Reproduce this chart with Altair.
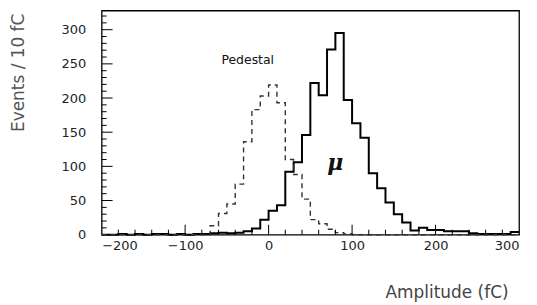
import altair as alt
import pandas as pd

# bin left edges (10 fC bins from -200 to 300)
edges = list(range(-200, 300, 10))

# signal (solid) histogram counts per bin
signal = [0, 0, 1, 0, 1, 0, 1, 1, 0, 1,
          0, 1, 1, 2, 3, 2, 3, 5, 9, 22,
          35, 43, 92, 106, 146, 222, 204, 271, 295, 197,
          163, 142, 90, 68, 47, 30, 18, 6, 10, 7,
          7, 5, 5, 5, 2, 1, 1, 1, 1, 4]

# pedestal (dashed) histogram counts per bin
pedestal = [0, 0, 0, 0, 0, 0, 0, 0, 0, 0,
            0, 0, 0, 13, 31, 45, 74, 136, 183, 203,
            219, 193, 110, 88, 52, 22, 16, 8, 3, 1,
            0, 0, 0, 0, 0, 0, 0, 0, 0, 0,
            0, 0, 0, 0, 0, 0, 0, 0, 0, 0]

x_label_values = [-200, -100, 0, 100, 200, 300]
y_label_values = [0, 50, 100, 150, 200, 250, 300]
x_minor_ticks = list(range(-180, 300, 20))
x_major_ticks = [-100, 0, 100, 200]
y_minor_ticks = list(range(10, 330, 10))
y_major_ticks = [50, 100, 150, 200, 250, 300]

annot_text = ["Pedestal"]
annot_x = [-25]
annot_y = [255]
mu_text = ["\u03bc"]
mu_x = [80]
mu_y = [105]

XD = [-200, 300]
YD = [0, 328]
W, H = 419, 225


def steps(vals):
    xs = edges + [300]
    ys = vals + [vals[-1]]
    return pd.DataFrame({"x": xs, "y": ys})


def xs():
    return alt.Scale(domain=XD, nice=False, zero=False)


def ys():
    return alt.Scale(domain=YD, nice=False, zero=False)


x_axis = alt.Axis(values=x_label_values, ticks=False, domain=False, grid=False,
                  labelPadding=5, labelFontSize=13, labelFont="DejaVu Sans", labelColor="#222",
                  labelOverlap=False,
                  labelExpr="datum.value < 0 ? '\u2212' + abs(datum.value) : datum.label",
                  title="Amplitude (fC)", titleFontSize=17, titleFont="DejaVu Sans",
                  titleFontWeight="normal", titleColor="#444", titleX=408, titleY=58,
                  titleAlign="right", titleBaseline="middle")
y_axis = alt.Axis(values=y_label_values, ticks=False, domain=False, grid=False,
                  labelPadding=16, labelFontSize=13, labelFont="DejaVu Sans", labelColor="#222",
                  labelOverlap=False,
                  title="Events / 10 fC", titleFontSize=17, titleFont="DejaVu Sans",
                  titleFontWeight="normal", titleColor="#555", titleX=-83, titleY=62,
                  titleAngle=-90, titleAlign="center", titleBaseline="middle")


def X(field):
    return alt.X(field, scale=xs(), axis=x_axis)


def Y(field):
    return alt.Y(field, scale=ys(), axis=y_axis)


sig = alt.Chart(steps(signal)).mark_line(interpolate="step-after", color="black", strokeWidth=2).encode(
    x=X("x:Q"), y=Y("y:Q"))
ped = alt.Chart(steps(pedestal)).mark_line(interpolate="step-after", color="#333", strokeWidth=1.4,
                                             strokeDash=[5, 4]).encode(
    x=X("x:Q"), y=Y("y:Q"))

# tick lengths in pixels converted to data units of the other axis
px_x = (XD[1] - XD[0]) / W
px_y = (YD[1] - YD[0]) / H

tick_rows = []
for k, v in enumerate(y_minor_ticks):
    ln = 11 if v in y_major_ticks else 5
    tick_rows.append({"id": f"y{k}", "x": XD[0], "y": v})
    tick_rows.append({"id": f"y{k}", "x": XD[0] + ln * px_x, "y": v})
for k, v in enumerate(x_minor_ticks):
    ln = 10 if v in x_major_ticks else 5
    tick_rows.append({"id": f"x{k}", "x": v, "y": YD[0]})
    tick_rows.append({"id": f"x{k}", "x": v, "y": YD[0] + ln * px_y})
ticks_df = pd.DataFrame(tick_rows)

ticks = alt.Chart(ticks_df).mark_line(color="black", strokeWidth=1).encode(
    x=X("x:Q"), y=Y("y:Q"), detail="id:N")

ped_txt = alt.Chart(pd.DataFrame({"t": annot_text, "x": annot_x, "y": annot_y})).mark_text(
    fontSize=12.5, font="DejaVu Sans", color="#111", align="center", baseline="middle").encode(
    x=X("x:Q"), y=Y("y:Q"), text="t:N")
mu_txt = alt.Chart(pd.DataFrame({"t": mu_text, "x": mu_x, "y": mu_y})).mark_text(
    fontSize=22, font="DejaVu Serif", fontStyle="italic", fontWeight="bold", color="#111",
    align="center", baseline="middle").encode(
    x=X("x:Q"), y=Y("y:Q"), text="t:N")

chart = alt.layer(sig, ped, ticks, ped_txt, mu_txt).properties(
    width=W, height=H,
    autosize=alt.AutoSizeParams(type="none"),
    padding={"left": 94, "top": 2, "right": 10, "bottom": 70},
    background="white",
).configure_view(stroke="black", strokeWidth=1.3)

chart.save("out.html", embed_options={"renderer": "svg", "actions": False})
